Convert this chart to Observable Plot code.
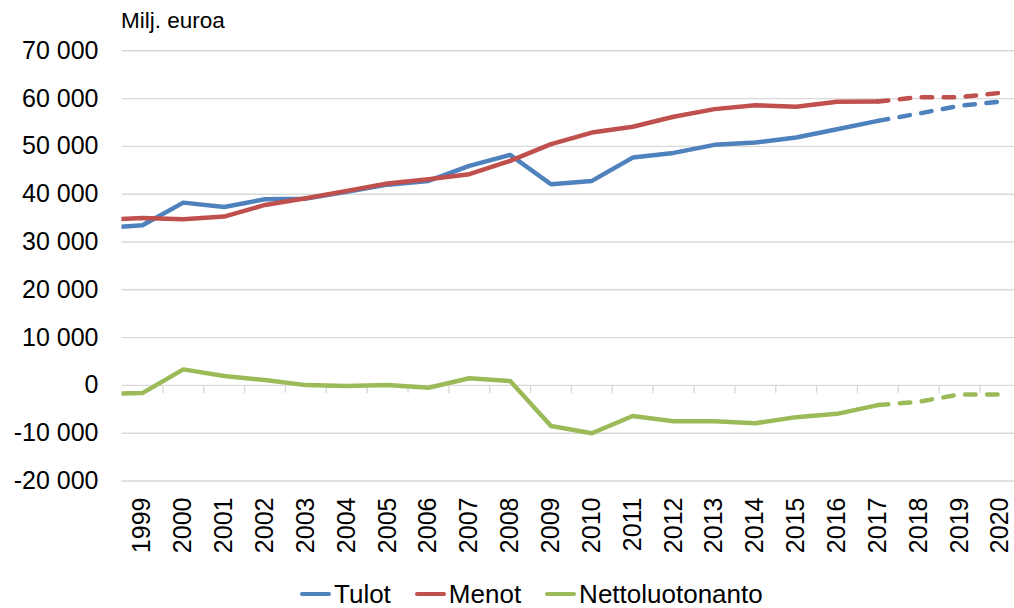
<!DOCTYPE html>
<html>
<head>
<meta charset="utf-8">
<script src="https://cdn.jsdelivr.net/npm/d3@7"></script>
<script src="https://cdn.jsdelivr.net/npm/@observablehq/plot@0.6"></script>
<style>
  html, body { margin: 0; padding: 0; background: #fff; }
  #wrap { position: relative; width: 1014px; height: 608px; overflow: hidden; font-family: "Liberation Sans", Arial, sans-serif; color: #000; }
  #unit { position: absolute; left: 121px; top: 8px; font-size: 22.5px; white-space: pre; }
  #chart { position: absolute; left: 0; top: 0; }
  #legend { position: absolute; left: 300px; top: 582px; height: 24px; display: flex; gap: 24px; font-size: 26px; line-height: 24px; align-items: center; }
  .item { display: flex; align-items: center; gap: 3px; height: 24px; }
  .sw { width: 31px; height: 4.5px; border-radius: 2.5px; }
</style>
</head>
<body>
<div id="wrap">
  <div id="chart"></div>
  <div id="unit">Milj. euroa</div>
  <div id="legend"></div>
</div>
<script>
// Years (1998 lies just left of the plotted area; the line enters from the frame edge)
const years = [1998, 1999, 2000, 2001, 2002, 2003, 2004, 2005, 2006, 2007, 2008, 2009, 2010,
               2011, 2012, 2013, 2014, 2015, 2016, 2017, 2018, 2019, 2020];
const tulot  = [32900, 33500, 38240, 37340, 38950, 39070, 40500, 42000, 42780, 45920, 48220, 42090, 42780,
                47660, 48640, 50320, 50800, 51850, 53600, 55340, 56870, 58490, 59390];
const menot  = [34600, 35030, 34760, 35310, 37760, 39160, 40690, 42220, 43140, 44180, 46970, 50460, 52890,
                54100, 56200, 57800, 58630, 58300, 59320, 59390, 60300, 60300, 61200];
const netto  = [-1800, -1610, 3350, 1950, 1110, 60, -150, 60, -500, 1500, 900, -8500, -10000,
                -6400, -7500, -7480, -7900, -6640, -5950, -4120, -3430, -1890, -1890];
const seriesNames = ["Tulot", "Menot", "Nettoluotonanto"];
const seriesColors = ["#4F81BD", "#C0504D", "#9BBB59"];
const lastActualYear = 2017;
const yTicks = d3.range(-20000, 70001, 10000);
const xTickYears = d3.range(1999, 2021);

const seriesValues = [tulot, menot, netto];
const rows = [];
seriesNames.forEach((name, s) => {
  years.forEach((yr, i) => rows.push({series: name, year: yr, value: seriesValues[s][i]}));
});

const W = 1014, H = 570;
const plotTop = 50.3, plotBottom = 480.5;
const pxPerUnit = (plotBottom - plotTop) / 90000;
const fmt = d3.formatLocale({decimal: ",", thousands: " ", grouping: [3], currency: ["", ""], minus: "-"}).format(",");
const boundaries = xTickYears.map(y => y + 0.5);
const font = '"Liberation Sans", Arial, sans-serif';

const plot = Plot.plot({
  width: W,
  height: H,
  marginLeft: 121.5,
  marginRight: 0,
  marginTop: plotTop,
  marginBottom: H - plotBottom,
  style: {fontFamily: font, fontSize: "25px", color: "#000", background: "#fff"},
  x: {domain: [1998.5, 2020.5], range: [121.5, 1020.4]},
  y: {domain: [-20000, 70000]},
  color: {domain: seriesNames, range: seriesColors},
  marks: [
    Plot.ruleY(yTicks, {stroke: "#D9D9D9", strokeWidth: 1.4}),
    Plot.ruleX(boundaries, {x: d => d, y1: 0, y2: -8 / pxPerUnit, stroke: "#D9D9D9", strokeWidth: 1.4}),
    Plot.axisY({ticks: yTicks, tickSize: 0, tickPadding: 23.5, tickFormat: fmt, fontSize: 25, fill: "#000", label: null}),
    Plot.axisX({ticks: xTickYears, tickSize: 0, tickPadding: 16.5, tickRotate: -90, tickFormat: d => String(d), fontSize: 25, fill: "#000", label: null}),
    Plot.line(rows.filter(d => d.year <= lastActualYear), {
      x: "year", y: "value", z: "series", stroke: "series",
      strokeWidth: 4.5, strokeLinecap: "round", strokeLinejoin: "round", clip: true
    }),
    Plot.line(rows.filter(d => d.year >= lastActualYear), {
      x: "year", y: "value", z: "series", stroke: "series",
      strokeWidth: 4.5, strokeLinecap: "round", strokeLinejoin: "round",
      strokeDasharray: "10.5,11.5", clip: true
    })
  ]
});
document.getElementById("chart").appendChild(plot);

const legend = document.getElementById("legend");
seriesNames.forEach((name, i) => {
  const item = document.createElement("div");
  item.className = "item";
  const sw = document.createElement("div");
  sw.className = "sw";
  sw.style.background = seriesColors[i];
  const t = document.createElement("span");
  t.textContent = name;
  item.appendChild(sw);
  item.appendChild(t);
  legend.appendChild(item);
});
</script>
</body>
</html>
